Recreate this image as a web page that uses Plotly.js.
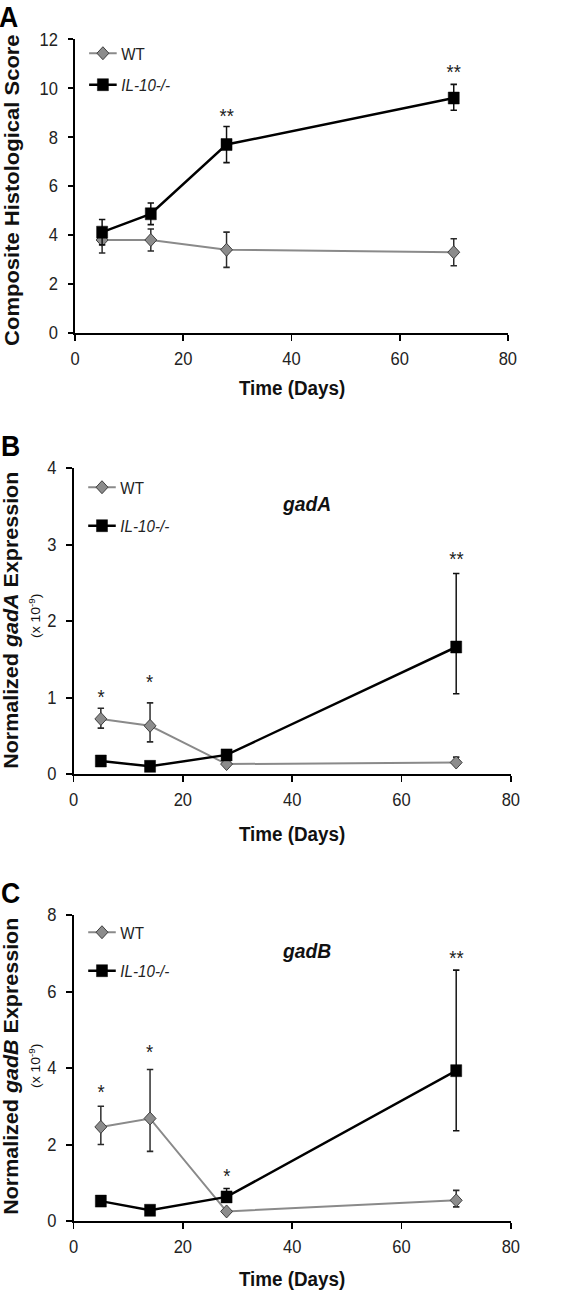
<!DOCTYPE html>
<html>
<head>
<meta charset="utf-8">
<script src="https://cdn.plot.ly/plotly-3.0.1.min.js"></script>
<style>
html,body{margin:0;padding:0;background:#fff;overflow:hidden;}
#wrap{width:566px;height:1292px;overflow:hidden;position:relative;}
#chart{width:616px;height:1292px;transform:scaleX(0.918831);transform-origin:0 0;}
</style>
</head>
<body>
<div id="wrap"><div id="chart"></div></div>
<script>
// ---------- data ----------
var days = [5, 14, 28, 70];
var seriesNames = ["WT", "<i>IL-10-/-</i>"];
var xTicks = [0, 20, 40, 60, 80];

// Panel A: composite histological score
var wtScore = [3.8, 3.8, 3.4, 3.3];
var wtScoreErrPlus = [0.45, 0.45, 0.72, 0.55];
var wtScoreErrMinus = [0.53, 0.45, 0.72, 0.55];
var ilScore = [4.12, 4.87, 7.7, 9.6];
var ilScoreErrPlus = [0.52, 0.44, 0.74, 0.56];
var ilScoreErrMinus = [0.52, 0.44, 0.74, 0.5];

// Panel B: gadA expression (x 10^-9)
var wtGadA = [0.72, 0.63, 0.13, 0.15];
var wtGadAErrPlus = [0.14, 0.30, 0.02, 0.07];
var wtGadAErrMinus = [0.12, 0.21, 0.02, 0.02];
var ilGadA = [0.17, 0.10, 0.25, 1.66];
var ilGadAErrPlus = [0.02, 0.02, 0.03, 0.96];
var ilGadAErrMinus = [0.02, 0.02, 0.03, 0.61];

// Panel C: gadB expression (x 10^-9)
var wtGadB = [2.46, 2.68, 0.25, 0.54];
var wtGadBErrPlus = [0.54, 1.28, 0.03, 0.26];
var wtGadBErrMinus = [0.46, 0.86, 0.03, 0.17];
var ilGadB = [0.52, 0.28, 0.63, 3.93];
var ilGadBErrPlus = [0.03, 0.03, 0.22, 2.63];
var ilGadBErrMinus = [0.03, 0.03, 0.10, 1.57];

// significance marks
var starsA = {x: [28, 70], y: [8.96, 10.73], t: ["**", "**"]};
var starsB = {x: [5, 14, 70], y: [1.03, 1.23, 2.84], t: ["*", "*", "**"]};
var starsC = {x: [5, 14, 28, 70], y: [3.42, 4.47, 1.24, 6.93], t: ["*", "*", "*", "**"]};

// ---------- helpers ----------
// The figure is laid out on a 616-wide canvas and squeezed horizontally to 566 px,
// reproducing the narrowed proportions of the reference picture.
var W = 616, H = 1292;
function px(x) { return x / W; }
function py(y) { return 1 - y / H; }
var FONT = "Liberation Sans, Arial, sans-serif";
var wtColor = "#8a8a8a", ilColor = "#000000";

function wtTrace(y, ep, em, xa, ya, leg) {
  return {
    x: days, y: y, xaxis: xa, yaxis: ya, legend: leg, legendgroup: leg + "wt",
    name: seriesNames[0], type: "scatter", mode: "lines+markers",
    line: {color: wtColor, width: 2},
    marker: {symbol: "diamond", size: 10, color: "#8c8c8c", line: {color: "#3a3a3a", width: 1}},
    error_y: {type: "data", symmetric: false, array: ep, arrayminus: em, color: "#2a2a2a", thickness: 1.6, width: 3.5}
  };
}
function ilTrace(y, ep, em, xa, ya, leg) {
  return {
    x: days, y: y, xaxis: xa, yaxis: ya, legend: leg, legendgroup: leg + "il",
    name: seriesNames[1], type: "scatter", mode: "lines+markers",
    line: {color: ilColor, width: 2.5},
    marker: {symbol: "square", size: 12, color: "#000", line: {color: "#000", width: 0.5}},
    error_y: {type: "data", symmetric: false, array: ep, arrayminus: em, color: "#111", thickness: 1.6, width: 3.5}
  };
}

var data = [
  wtTrace(wtScore, wtScoreErrPlus, wtScoreErrMinus, "x", "y", "legend"),
  ilTrace(ilScore, ilScoreErrPlus, ilScoreErrMinus, "x", "y", "legend"),
  wtTrace(wtGadA, wtGadAErrPlus, wtGadAErrMinus, "x2", "y2", "legend2"),
  ilTrace(ilGadA, ilGadAErrPlus, ilGadAErrMinus, "x2", "y2", "legend2"),
  wtTrace(wtGadB, wtGadBErrPlus, wtGadBErrMinus, "x3", "y3", "legend3"),
  ilTrace(ilGadB, ilGadBErrPlus, ilGadBErrMinus, "x3", "y3", "legend3")
];

function xAxis(domain, anchor) {
  return {
    domain: domain, anchor: anchor, range: [0, 80], tickmode: "array", tickvals: xTicks,
    showline: true, linecolor: "#000", linewidth: 2, ticks: "outside", ticklen: 6, tickwidth: 2, tickcolor: "#000",
    ticklabelstandoff: 2,
    showgrid: false, zeroline: false, tickfont: {family: FONT, size: 18, color: "#222"}, fixedrange: true
  };
}
function yAxis(domain, anchor, max, dtick) {
  return {
    domain: domain, anchor: anchor, range: [0, max], dtick: dtick, tick0: 0,
    showline: true, linecolor: "#000", linewidth: 2, ticks: "outside", ticklen: 6, tickwidth: 2, tickcolor: "#000",
    ticklabelstandoff: 7,
    showgrid: false, zeroline: false, tickfont: {family: FONT, size: 18, color: "#222"}, fixedrange: true
  };
}
function legendAt(x, y, gap) {
  return {
    x: px(x), y: py(y), xanchor: "left", yanchor: "top", bgcolor: "rgba(0,0,0,0)",
    font: {family: FONT, size: 16.5, color: "#222"}, tracegroupgap: gap, itemwidth: 30
  };
}

var annotations = [];
function addStars(s, xr, yr) {
  for (var i = 0; i < s.x.length; i++) {
    annotations.push({x: s.x[i], y: s.y[i], xref: xr, yref: yr, text: s.t[i], showarrow: false,
      yshift: -2, font: {family: FONT, size: 20, color: "#222"}});
  }
}
addStars(starsA, "x", "y");
addStars(starsB, "x2", "y2");
addStars(starsC, "x3", "y3");

function txt(x, y, text, size, extra) {
  var a = {x: px(x), y: py(y), xref: "paper", yref: "paper", text: text, showarrow: false,
    xanchor: "center", yanchor: "middle", font: {family: FONT, size: size, color: "#111"}};
  for (var k in extra) a[k] = extra[k];
  return a;
}
var narrow = "Liberation Sans Narrow, Arial Narrow, Liberation Sans, sans-serif";
// panel letters
annotations.push(txt(10, 17, "<b>A</b>", 28, {font: {family: narrow, size: 29, color: "#000"}}));
annotations.push(txt(11, 446, "<b>B</b>", 28, {font: {family: narrow, size: 29, color: "#000"}}));
annotations.push(txt(11, 893, "<b>C</b>", 28, {font: {family: narrow, size: 29, color: "#000"}}));
// x titles
annotations.push(txt(318, 387, "<b>Time (Days)</b>", 20.5));
annotations.push(txt(318, 833, "<b>Time (Days)</b>", 20.5));
annotations.push(txt(318, 1278, "<b>Time (Days)</b>", 20.5));
// y titles
annotations.push(txt(13, 190, "<b>Composite Histological Score</b>", 22, {textangle: -90}));
annotations.push(txt(13, 620, "<b>Normalized <i>gadA</i> Expression</b>", 21.5, {textangle: -90}));
annotations.push(txt(38, 616, "(x 10<sup>-9</sup>)", 14, {textangle: -90}));
annotations.push(txt(13, 1066, "<b>Normalized <i>gadB</i> Expression</b>", 21.5, {textangle: -90}));
annotations.push(txt(38, 1066, "(x 10<sup>-9</sup>)", 14, {textangle: -90}));
// gene labels
annotations.push(txt(334, 503, "<b><i>gadA</i></b>", 21));
annotations.push(txt(334, 950, "<b><i>gadB</i></b>", 21));

var layout = {
  width: W, height: H, autosize: false,
  margin: {l: 0, r: 0, t: 0, b: 0, pad: 0},
  paper_bgcolor: "#fff", plot_bgcolor: "#fff",
  font: {family: FONT, color: "#222"},
  showlegend: true,
  xaxis: xAxis([px(81.7), px(552.7)], "y"),
  yaxis: yAxis([py(333), py(39.3)], "x", 12, 2),
  xaxis2: xAxis([px(80), px(556)], "y2"),
  yaxis2: yAxis([py(774), py(468)], "x2", 4, 1),
  xaxis3: xAxis([px(80), px(556)], "y3"),
  yaxis3: yAxis([py(1221), py(915)], "x3", 8, 2),
  legend: legendAt(92, 36, 7),
  legend2: legendAt(91, 470, 14),
  legend3: legendAt(91, 915, 14),
  annotations: annotations
};

Plotly.newPlot("chart", data, layout, {staticPlot: true, displayModeBar: false});
</script>
</body>
</html>
